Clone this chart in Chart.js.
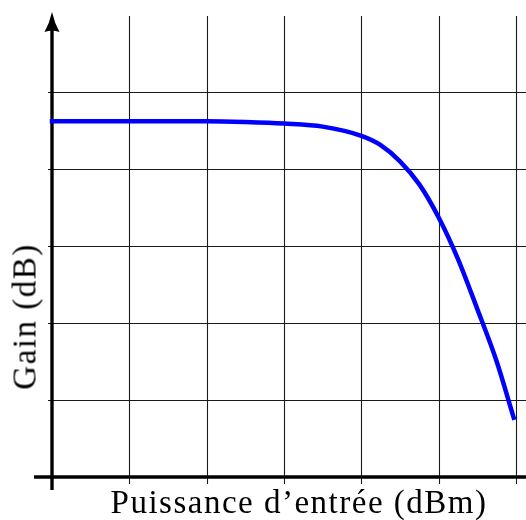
<!DOCTYPE html>
<html>
<head>
<meta charset="utf-8">
<script src="https://cdn.jsdelivr.net/npm/chart.js@4.4.1/dist/chart.umd.min.js"></script>
<style>
  html, body { margin: 0; padding: 0; background: #fff; }
  #wrap { position: relative; width: 526px; height: 520px; overflow: hidden; }
  .title {
    position: absolute;
    font-family: "Liberation Serif", "DejaVu Serif", serif;
    font-size: 33px;
    line-height: 33px;
    letter-spacing: 1.5px;
    color: #000;
    white-space: nowrap;
    text-align: center;
  }
  #xTitle { left: 49px; width: 500px; top: 486px; }
  #yTitle { left: -75px; width: 200px; top: 300px; transform: rotate(-90deg); }
</style>
</head>
<body>
<div id="wrap">
  <canvas id="chart" width="526" height="520"></canvas>
  <div class="title" id="xTitle">Puissance d’entrée (dBm)</div>
  <div class="title" id="yTitle">Gain (dB)</div>
</div>
<script>
// values, in grid units (one unit = one grid square)
var inputPower = [0, 1, 2, 2.5, 3, 3.5, 4, 4.25, 4.5, 4.75, 5, 5.25, 5.5, 5.75, 5.97];
var gain = [4.62, 4.62, 4.62, 4.61, 4.59, 4.55, 4.43, 4.31, 4.10, 3.80, 3.37, 2.83, 2.18, 1.50, 0.77];
var gridX = [1, 2, 3, 4, 5, 6];
var gridY = [1, 2, 3, 4, 5];

var points = inputPower.map(function (x, i) { return {x: x, y: gain[i]}; });

// grid, axes and arrow drawn from the scales, under the curve
var framePlugin = {
  id: 'frame',
  beforeDatasetsDraw: function (chart) {
    var ctx = chart.ctx,
        xs = chart.scales.x,
        ys = chart.scales.y,
        x0 = xs.getPixelForValue(0),
        y0 = ys.getPixelForValue(0),
        right = chart.chartArea.right,
        top = ys.getPixelForValue(6);

    ctx.save();
    ctx.strokeStyle = '#1a1a1a';
    ctx.lineWidth = 1.1;
    gridX.forEach(function (v) {
      var px = Math.round(xs.getPixelForValue(v)) + 0.5;
      ctx.beginPath();
      ctx.moveTo(px, top + 1);
      ctx.lineTo(px, y0 + 7);
      ctx.stroke();
    });
    gridY.forEach(function (v) {
      var py = Math.round(ys.getPixelForValue(v)) + 0.5;
      ctx.beginPath();
      ctx.moveTo(x0 - 4, py);
      ctx.lineTo(right, py);
      ctx.stroke();
    });

    // axes
    ctx.strokeStyle = '#000';
    ctx.lineWidth = 3.4;
    ctx.beginPath();
    ctx.moveTo(chart.chartArea.left, y0);
    ctx.lineTo(right, y0);
    ctx.stroke();
    ctx.beginPath();
    ctx.moveTo(x0, chart.chartArea.bottom);
    ctx.lineTo(x0, top + 14);
    ctx.stroke();

    // arrow head
    ctx.fillStyle = '#000';
    ctx.beginPath();
    ctx.moveTo(x0, top - 3);
    ctx.quadraticCurveTo(x0 + 2.5, top + 8, x0 + 7.5, top + 17);
    ctx.quadraticCurveTo(x0, top + 14, x0 - 7.5, top + 17);
    ctx.quadraticCurveTo(x0 - 2.5, top + 8, x0, top - 3);
    ctx.fill();
    ctx.restore();
  }
};

new Chart(document.getElementById('chart'), {
  type: 'line',
  data: {
    datasets: [{
      data: points,
      borderColor: '#0000ff',
      borderWidth: 4.5,
      borderCapStyle: 'square',
      cubicInterpolationMode: 'monotone',
      pointRadius: 0,
      pointHoverRadius: 0,
      fill: false
    }]
  },
  options: {
    responsive: false,
    animation: false,
    events: [],
    layout: { padding: { left: 34, right: 0, top: 14, bottom: 30 } },
    plugins: { legend: { display: false }, tooltip: { enabled: false } },
    scales: {
      x: { type: 'linear', display: false, min: -0.2328, max: 6.1293 },
      y: { type: 'linear', display: false, min: -0.169, max: 6.013 }
    }
  },
  plugins: [framePlugin]
});
</script>
</body>
</html>
